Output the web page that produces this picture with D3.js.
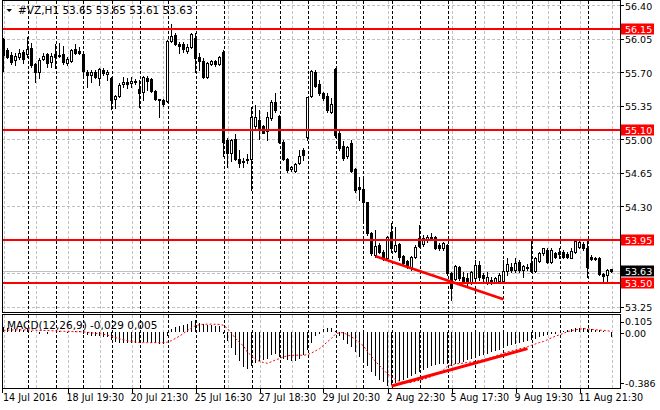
<!DOCTYPE html>
<html>
<head>
<meta charset="utf-8">
<script src="https://cdn.jsdelivr.net/npm/d3@7"></script>
<style>
  body { margin: 0; background: #fff; }
  text { font-family: "DejaVu Sans", sans-serif; }
</style>
</head>
<body>
<div id="chart"></div>
<script>
// #VZ H1 bars, 14 Jul 2016 17:30 .. 12 Aug 2016 22:30
const openVals = [
  56.05,55.93,55.88,55.83,55.86,55.91,55.89,55.95,55.79,55.70,
  55.84,55.89,55.81,55.89,55.88,55.89,55.80,55.82,55.94,55.92,
  55.89,55.70,55.67,55.70,55.64,55.72,55.68,55.64,55.42,55.45,
  55.58,55.60,55.59,55.61,55.52,55.49,55.64,55.63,55.50,55.42,
  55.41,55.40,56.02,56.09,55.99,55.99,55.92,55.96,56.06,55.86,
  55.82,55.65,55.78,55.82,55.79,55.91,54.99,54.86,55.00,54.79,
  54.77,54.78,54.79,55.14,55.20,55.14,55.09,55.22,55.39,55.24,
  54.97,54.79,54.69,54.67,54.75,54.89,55.02,55.45,55.70,55.58,
  55.48,55.45,55.28,55.73,55.06,54.93,54.82,54.96,54.69,54.50,
  54.48,54.34,54.02,53.79,53.90,53.82,53.76,54.03,53.83,53.91,
  53.78,53.73,53.67,53.77,53.97,53.91,53.96,53.97,53.98,53.90,
  53.86,53.90,53.60,53.54,53.67,53.56,53.55,53.50,53.55,53.69,
  53.58,53.51,53.53,53.51,53.52,53.52,53.62,53.67,53.64,53.72,
  53.64,53.67,53.71,53.62,53.73,53.81,53.84,53.72,53.81,53.82,
  53.82,53.80,53.76,53.82,53.88,53.91,53.87,53.77,53.75,53.76,
  53.59,53.58,53.65
];
const highVals = [
  56.06,55.95,55.91,55.90,55.94,55.93,56.07,56.00,55.80,55.85,
  55.90,55.90,55.90,55.99,56.00,55.97,55.86,55.94,55.99,55.96,
  55.90,55.72,55.72,55.72,55.74,55.74,55.72,55.65,55.46,55.59,
  55.65,55.64,55.65,55.63,55.62,55.66,55.66,55.64,55.51,55.42,
  55.42,56.04,56.20,56.11,56.01,56.01,55.99,56.11,56.11,55.90,
  55.85,55.81,55.83,55.83,55.87,55.93,55.01,55.00,55.05,54.89,
  54.80,54.85,55.34,55.36,55.31,55.15,55.28,55.41,55.48,55.25,
  54.99,54.80,54.72,54.75,54.89,54.91,55.44,55.72,55.72,55.62,
  55.49,55.48,55.43,55.74,55.10,54.98,54.93,54.99,54.70,54.61,
  54.61,54.35,54.03,54.05,53.92,53.84,53.99,54.13,54.08,53.92,
  53.79,53.74,53.78,53.90,54.11,54.00,54.00,54.02,53.99,53.92,
  53.93,53.91,53.61,53.69,53.68,53.61,53.60,53.63,53.74,53.73,
  53.60,53.61,53.56,53.56,53.60,53.74,53.76,53.71,53.76,53.74,
  53.69,53.70,53.95,53.77,53.82,53.87,53.86,53.86,53.82,53.86,
  53.84,53.82,53.86,53.96,53.96,53.93,53.95,53.79,53.77,53.77,
  53.60,53.65,53.65
];
const lowVals = [
  55.71,55.85,55.79,55.77,55.84,55.80,55.86,55.75,55.60,55.64,
  55.83,55.75,55.75,55.74,55.86,55.79,55.77,55.81,55.89,55.89,
  55.67,55.55,55.60,55.64,55.57,55.67,55.62,55.32,55.33,55.44,
  55.55,55.53,55.55,55.58,55.34,55.41,55.51,55.49,55.41,55.23,
  55.35,55.39,56.01,55.98,55.90,55.91,55.90,55.95,55.70,55.72,
  55.64,55.64,55.77,55.76,55.77,54.83,54.71,54.77,54.78,54.71,
  54.71,54.75,54.47,55.10,55.00,55.06,54.99,55.20,55.28,54.96,
  54.78,54.66,54.67,54.66,54.74,54.78,54.99,55.44,55.55,55.46,
  55.41,55.28,55.27,55.02,54.89,54.78,54.80,54.66,54.45,54.37,
  54.16,54.00,53.79,53.77,53.81,53.74,53.75,53.82,53.82,53.74,
  53.69,53.66,53.64,53.76,53.88,53.89,53.93,53.97,53.85,53.84,
  53.84,53.58,53.32,53.53,53.53,53.50,53.48,53.49,53.53,53.53,
  53.50,53.49,53.49,53.50,53.51,53.50,53.58,53.61,53.61,53.61,
  53.56,53.64,53.61,53.61,53.72,53.79,53.71,53.71,53.76,53.76,
  53.76,53.76,53.76,53.81,53.87,53.84,53.56,53.74,53.74,53.58,
  53.51,53.52,53.61
];
const closeVals = [
  55.88,55.86,55.81,55.87,55.90,55.84,55.94,55.77,55.70,55.83,
  55.87,55.80,55.87,55.86,55.87,55.81,55.84,55.93,55.90,55.90,
  55.71,55.67,55.70,55.65,55.73,55.69,55.70,55.41,55.45,55.57,
  55.60,55.58,55.61,55.60,55.48,55.65,55.61,55.50,55.42,55.41,
  55.37,56.03,56.08,55.99,55.97,55.94,55.96,56.10,55.85,55.82,
  55.65,55.80,55.82,55.78,55.86,54.97,54.86,54.99,54.79,54.75,
  54.76,54.79,55.23,55.23,55.12,55.07,55.23,55.39,55.31,54.97,
  54.79,54.68,54.71,54.74,54.83,54.84,55.44,55.71,55.56,55.48,
  55.43,55.30,55.37,55.04,54.91,54.80,54.92,54.67,54.47,54.48,
  54.34,54.02,53.81,53.89,53.82,53.76,53.98,53.86,53.90,53.77,
  53.71,53.67,53.77,53.88,53.89,53.97,53.98,53.98,53.87,53.86,
  53.92,53.60,53.45,53.68,53.55,53.52,53.50,53.61,53.69,53.56,
  53.55,53.56,53.51,53.55,53.58,53.62,53.70,53.64,53.71,53.64,
  53.68,53.66,53.62,53.76,53.81,53.86,53.72,53.84,53.77,53.80,
  53.77,53.77,53.83,53.94,53.93,53.86,53.67,53.75,53.76,53.59,
  53.57,53.64,53.63
];

// MACD(12,26,9) main (histogram) and signal
const macdVals = [
  0.035,0.03,0.025,0.02,0.02,0.015,0.02,0.01,0.0,-0.005,
  0.0,-0.005,0.0,0.003,0.005,0.0,-0.003,0.003,0.008,0.008,
  -0.005,-0.012,-0.018,-0.022,-0.025,-0.028,-0.03,-0.05,-0.065,-0.07,
  -0.072,-0.07,-0.068,-0.068,-0.072,-0.065,-0.065,-0.07,-0.075,-0.08,
  -0.082,-0.025,0.02,0.035,0.045,0.05,0.058,0.075,0.083,0.065,
  0.055,0.05,0.05,0.045,0.045,-0.01,-0.06,-0.11,-0.155,-0.2,
  -0.24,-0.26,-0.235,-0.215,-0.2,-0.195,-0.185,-0.16,-0.148,-0.17,
  -0.185,-0.195,-0.2,-0.198,-0.185,-0.16,-0.12,-0.07,-0.02,-0.005,
  0.02,0.025,0.03,0.005,-0.02,-0.048,-0.076,-0.1,-0.138,-0.171,
  -0.202,-0.238,-0.281,-0.31,-0.333,-0.352,-0.38,-0.372,-0.357,-0.345,
  -0.333,-0.321,-0.31,-0.29,-0.276,-0.262,-0.25,-0.238,-0.229,-0.224,
  -0.219,-0.219,-0.233,-0.224,-0.214,-0.205,-0.195,-0.186,-0.176,-0.167,
  -0.157,-0.148,-0.138,-0.129,-0.119,-0.105,-0.095,-0.086,-0.076,-0.071,
  -0.067,-0.06,-0.048,-0.043,-0.029,-0.024,-0.014,-0.01,-0.005,0.0,
  0.007,0.012,0.019,0.029,0.031,0.026,0.019,0.019,0.012,0.012,
  0.007,0.0,-0.029
];
const signalVals = [
  0.012,0.013,0.014,0.015,0.015,0.015,0.015,0.014,0.013,0.012,
  0.011,0.01,0.009,0.008,0.006,0.005,0.004,0.003,0.002,0.002,
  0.001,-0.002,-0.006,-0.009,-0.012,-0.016,-0.022,-0.032,-0.04,-0.048,
  -0.056,-0.062,-0.068,-0.072,-0.075,-0.076,-0.076,-0.076,-0.076,-0.076,
  -0.076,-0.072,-0.062,-0.045,-0.03,-0.01,0.01,0.03,0.045,0.052,
  0.055,0.056,0.056,0.055,0.054,0.048,0.025,-0.01,-0.045,-0.075,
  -0.1,-0.145,-0.17,-0.195,-0.21,-0.218,-0.224,-0.212,-0.2,-0.19,
  -0.178,-0.17,-0.167,-0.166,-0.166,-0.166,-0.162,-0.15,-0.135,-0.12,
  -0.095,-0.07,-0.045,-0.015,-0.005,-0.005,-0.02,-0.035,-0.055,-0.075,
  -0.1,-0.14,-0.175,-0.21,-0.24,-0.27,-0.3,-0.32,-0.342,-0.352,
  -0.36,-0.362,-0.36,-0.352,-0.345,-0.338,-0.328,-0.318,-0.306,-0.29,
  -0.27,-0.245,-0.235,-0.228,-0.226,-0.222,-0.218,-0.214,-0.21,-0.204,
  -0.198,-0.19,-0.182,-0.172,-0.162,-0.152,-0.143,-0.136,-0.128,-0.12,
  -0.114,-0.105,-0.095,-0.085,-0.075,-0.068,-0.055,-0.042,-0.03,-0.02,
  -0.01,0.003,0.01,0.016,0.02,0.024,0.022,0.019,0.016,0.013,
  0.012,0.008,0.005
];

// horizontal levels, trend lines, axis labels
const levelVals = [56.15, 55.10, 53.95, 53.50];
const lastPrice = 53.63;
const priceTicks = [56.40, 56.05, 55.70, 55.35, 55.00, 54.65, 54.30, 53.95, 53.60, 53.25];
const macdTicks = [0.105, 0.00, -0.386];
const macdTickLabels = ["0.105", "0.00", "-0.386"];
const priceTrendIdx = [93, 125];
const priceTrendVal = [53.78, 53.33];
const macdTrendIdx = [97, 131];
const macdTrendVal = [-0.386, -0.119];
const xTickIdx = [0, 16, 32, 48, 64, 80, 96, 112, 128, 144];
const xTickLabels = ["14 Jul 2016", "18 Jul 19:30", "20 Jul 21:30", "25 Jul 16:30", "27 Jul 18:30",
  "29 Jul 20:30", "2 Aug 22:30", "5 Aug 17:30", "9 Aug 19:30", "11 Aug 21:30"];
const daySepIdx = d3.range(6, 153, 7);   // first bar of each session
const gridIdx = d3.range(0, 153, 8);

const width = 660, height = 410;
const left = 2, right = 620;
const mainTop = 1, mainBottom = 312.5;
const macdTop = 315, macdBottom = 389;

const svg = d3.select("#chart").append("svg")
  .attr("width", width)
  .attr("height", height)
  .style("display", "block");

svg.append("rect").attr("width", width).attr("height", height).attr("fill", "#fff");

const x = d3.scaleLinear().domain([0, 152]).range([3.5, 611.5]);
const y = d3.scaleLinear().domain([53.50, 56.15]).range([283, 29]);
const ym = d3.scaleLinear().domain([-0.386, 0.105]).range([386, 317.3]);
const px = v => Math.round(v) + 0.5;

const defs = svg.append("defs");
defs.append("clipPath").attr("id", "clip-main")
  .append("rect").attr("x", left).attr("y", mainTop).attr("width", right - left).attr("height", mainBottom - mainTop);
defs.append("clipPath").attr("id", "clip-macd")
  .append("rect").attr("x", left).attr("y", macdTop).attr("width", right - left).attr("height", macdBottom - macdTop);

const main = svg.append("g").attr("clip-path", "url(#clip-main)");
const macd = svg.append("g").attr("clip-path", "url(#clip-macd)");

// grid
main.selectAll(".hgrid").data(priceTicks).enter().append("line")
  .attr("x1", left).attr("x2", right)
  .attr("y1", d => px(y(d))).attr("y2", d => px(y(d)))
  .attr("stroke", "#c0c0c0").attr("stroke-dasharray", "3,2");

[[main, mainTop, mainBottom], [macd, macdTop, macdBottom]].forEach(([g, t, b]) => {
  g.selectAll(".vgrid").data(gridIdx).enter().append("line")
    .attr("x1", d => px(x(d))).attr("x2", d => px(x(d)))
    .attr("y1", t).attr("y2", b)
    .attr("stroke", "#c0c0c0").attr("stroke-dasharray", "3,2");
  g.selectAll(".sep").data(daySepIdx).enter().append("line")
    .attr("x1", d => px(x(d))).attr("x2", d => px(x(d)))
    .attr("y1", t).attr("y2", b)
    .attr("stroke", "#000").attr("stroke-dasharray", "3,2");
});

// last price line
main.append("line")
  .attr("x1", left).attr("x2", right)
  .attr("y1", px(y(lastPrice))).attr("y2", px(y(lastPrice)))
  .attr("stroke", "#c0c0c0");

// candles
const bars = openVals.map((o, i) => ({ i, o, h: highVals[i], l: lowVals[i], c: closeVals[i] }));

const candle = main.selectAll(".candle").data(bars).enter().append("g");

candle.append("line")
  .attr("x1", d => x(d.i)).attr("x2", d => x(d.i))
  .attr("y1", d => Math.round(y(d.h))).attr("y2", d => Math.round(y(d.l)) + 1)
  .attr("stroke", "#000");

candle.each(function (d) {
  const g = d3.select(this);
  const top = Math.round(y(Math.max(d.o, d.c)));
  const bot = Math.round(y(Math.min(d.o, d.c)));
  if (d.c < d.o || bot - top < 2) {
    g.append("rect")
      .attr("x", x(d.i) - 1.5).attr("y", top)
      .attr("width", 3).attr("height", Math.max(1, bot - top + 1))
      .attr("fill", "#000");
  } else {
    g.append("rect")
      .attr("x", x(d.i) - 1).attr("y", top + 0.5)
      .attr("width", 2).attr("height", bot - top)
      .attr("fill", "#fff").attr("stroke", "#000");
  }
});

// horizontal levels
main.selectAll(".level").data(levelVals).enter().append("line")
  .attr("x1", left).attr("x2", right)
  .attr("y1", d => Math.round(y(d))).attr("y2", d => Math.round(y(d)))
  .attr("stroke", "#ff0000").attr("stroke-width", 2);

// trend line on price
main.append("line")
  .attr("x1", x(priceTrendIdx[0])).attr("y1", y(priceTrendVal[0]))
  .attr("x2", x(priceTrendIdx[1])).attr("y2", y(priceTrendVal[1]))
  .attr("stroke", "#ff0000").attr("stroke-width", 2.6);

// MACD histogram
macd.selectAll(".hist").data(macdVals).enter().append("line")
  .attr("x1", (d, i) => x(i)).attr("x2", (d, i) => x(i))
  .attr("y1", Math.round(ym(0)))
  .attr("y2", d => Math.round(ym(d)) + (d < 0 ? 1 : 0))
  .attr("stroke", "#000");

// signal line
macd.append("path")
  .datum(signalVals)
  .attr("d", d3.line().x((d, i) => x(i)).y(d => ym(d)))
  .attr("fill", "none")
  .attr("stroke", "#ff0000")
  .attr("stroke-dasharray", "2,2");

// trend line on MACD
macd.append("line")
  .attr("x1", x(macdTrendIdx[0])).attr("y1", ym(macdTrendVal[0]))
  .attr("x2", x(macdTrendIdx[1])).attr("y2", ym(macdTrendVal[1]))
  .attr("stroke", "#ff0000").attr("stroke-width", 3);

// frames
const frame = svg.append("g").attr("fill", "none").attr("stroke", "#000");
frame.append("rect").attr("x", left + 0.5).attr("y", mainTop - 0.5).attr("width", right - left).attr("height", mainBottom - mainTop + 0.5);
frame.append("rect").attr("x", left + 0.5).attr("y", macdTop - 0.5).attr("width", right - left).attr("height", macdBottom - macdTop);

// price axis
const special = levelVals.concat([lastPrice]);
const axisLabels = priceTicks.filter(t => special.every(s => Math.abs(y(s) - y(t)) > 7));
svg.selectAll(".ptick").data(priceTicks).enter().append("line")
  .attr("x1", right).attr("x2", right + 4)
  .attr("y1", d => px(y(d))).attr("y2", d => px(y(d)))
  .attr("stroke", "#000");
svg.selectAll(".plabel").data(axisLabels).enter().append("text")
  .attr("x", right + 5).attr("y", d => y(d) + 4.5)
  .attr("font-size", 9.5)
  .text(d => d.toFixed(2));

// level tags
const tags = svg.selectAll(".tag").data(levelVals.map(v => ({ v, bg: "#ff0000" }))
  .concat([{ v: lastPrice, bg: "#000" }])).enter().append("g");
tags.append("rect")
  .attr("x", right + 1).attr("y", d => Math.round(y(d.v)) - 5.5)
  .attr("width", 33).attr("height", 11)
  .attr("fill", d => d.bg);
tags.append("text")
  .attr("x", right + 5).attr("y", d => Math.round(y(d.v)) + 3.5)
  .attr("font-size", 9.5).attr("fill", "#fff")
  .text(d => d.v.toFixed(2));

// MACD axis (labels kept inside the panel)
const mPos = [322, 333, 383];
svg.selectAll(".mtick").data(macdTicks).enter().append("line")
  .attr("x1", right).attr("x2", right + 4)
  .attr("y1", (d, i) => px(mPos[i])).attr("y2", (d, i) => px(mPos[i]))
  .attr("stroke", "#000");
svg.selectAll(".mlabel").data(macdTicks).enter().append("text")
  .attr("x", right + 5).attr("y", (d, i) => mPos[i] + (i === 0 ? 2.5 : 4))
  .attr("font-size", 9.5)
  .text((d, i) => macdTickLabels[i]);

// time axis
svg.selectAll(".xtick").data(xTickIdx).enter().append("line")
  .attr("x1", d => d === 0 ? left + 0.5 : px(x(d))).attr("x2", d => d === 0 ? left + 0.5 : px(x(d)))
  .attr("y1", macdBottom).attr("y2", macdBottom + 4)
  .attr("stroke", "#000");
svg.selectAll(".xlabel").data(xTickIdx).enter().append("text")
  .attr("x", d => d === 0 ? left + 1 : x(d) - 1)
  .attr("y", 401)
  .attr("font-size", 9.6)
  .text((d, i) => xTickLabels[i]);

// titles
svg.append("path").attr("d", "M6.5,9 L12,9 L9.25,12 Z").attr("fill", "#000");
svg.append("text").attr("x", 18).attr("y", 13.5)
  .attr("font-size", 10.5)
  .text("#VZ,H1 53.65 53.65 53.61 53.63");
svg.append("text").attr("x", 7).attr("y", 328.5)
  .attr("font-size", 10.5)
  .text("MACD(12,26,9) -0,029 0,005");
</script>
</body>
</html>
